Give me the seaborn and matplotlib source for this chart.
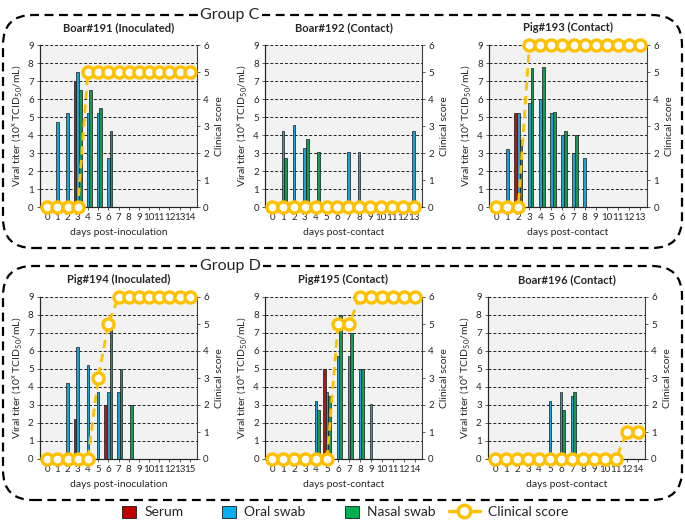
import numpy as np
import pandas as pd
import seaborn as sns
import matplotlib.pyplot as plt
from matplotlib.patches import FancyBboxPatch, Patch
from matplotlib.lines import Line2D

nan = np.nan

samples = ["Serum", "Oral swab", "Nasal swab"]
colors = ["#C00000", "#00B0F0", "#00B050"]
score_color = "#FFC000"

# ---- Group C ----
days_191 = [0, 1, 2, 3, 4, 5, 6, 7, 8, 9, 10, 11, 12, 13, 14]
serum_191 = [nan, nan, nan, 7.0, nan, nan, nan, nan, nan, nan, nan, nan, nan, nan, nan]
oral_191 = [nan, 4.75, 5.25, 7.5, 5.25, 5.25, 2.75, nan, nan, nan, nan, nan, nan, nan, nan]
nasal_191 = [nan, nan, nan, 6.5, 6.5, 5.5, 4.25, nan, nan, nan, nan, nan, nan, nan, nan]
score_191 = [0, 0, 0, 0, 5, 5, 5, 5, 5, 5, 5, 5, 5, 5, 5]

days_192 = [0, 1, 2, 3, 4, 5, 6, 7, 8, 9, 10, 11, 12, 13]
serum_192 = [nan] * 14
oral_192 = [nan, 4.25, 4.55, 3.3, nan, nan, nan, 3.05, 3.05, nan, nan, nan, nan, 4.25]
nasal_192 = [nan, 2.75, nan, 3.8, 3.05, nan, nan, nan, nan, nan, nan, nan, nan, nan]
score_192 = [0, 0, 0, 0, 0, 0, 0, 0, 0, 0, 0, 0, 0, 0]

days_193 = [0, 1, 2, 3, 4, 5, 6, 7, 8, 9, 10, 11, 12, 13]
serum_193 = [nan, nan, 5.25, nan, nan, nan, nan, nan, nan, nan, nan, nan, nan, nan]
oral_193 = [nan, 3.25, 5.25, 5.8, 6.0, 5.25, 4.0, 3.0, 2.75, nan, nan, nan, nan, nan]
nasal_193 = [nan, nan, 3.75, 7.75, 7.8, 5.3, 4.25, 4.0, nan, nan, nan, nan, nan, nan]
score_193 = [0, 0, 0, 6, 6, 6, 6, 6, 6, 6, 6, 6, 6, 6]

# ---- Group D ----
days_194 = [0, 1, 2, 3, 4, 5, 6, 7, 8, 9, 10, 11, 12, 13, 15]
serum_194 = [nan, nan, nan, 2.25, nan, nan, 3.0, nan, nan, nan, nan, nan, nan, nan, nan]
oral_194 = [nan, nan, 4.25, 6.25, 5.25, 3.75, 3.75, 3.75, nan, nan, nan, nan, nan, nan, nan]
nasal_194 = [nan, nan, nan, nan, nan, nan, 7.25, 5.0, 3.0, nan, nan, nan, nan, nan, nan]
score_194 = [0, 0, 0, 0, 0, 3, 5, 6, 6, 6, 6, 6, 6, 6, 6]

days_195 = [0, 1, 2, 3, 4, 5, 6, 7, 8, 9, 10, 11, 12, 14]
serum_195 = [nan, nan, nan, nan, nan, 5.0, nan, nan, nan, nan, nan, nan, nan, nan]
oral_195 = [nan, nan, nan, nan, 3.25, 3.75, 5.75, 5.75, 5.0, 3.05, nan, nan, nan, nan]
nasal_195 = [nan, nan, nan, nan, 2.75, 3.5, 8.0, 7.0, 5.0, nan, nan, nan, nan, nan]
score_195 = [0, 0, 0, 0, 0, 0, 5, 5, 6, 6, 6, 6, 6, 6]

days_196 = [0, 1, 2, 3, 4, 5, 6, 7, 8, 9, 10, 11, 12, 14]
serum_196 = [nan] * 14
oral_196 = [nan, nan, nan, nan, nan, 3.25, 3.75, 3.5, nan, nan, nan, nan, nan, nan]
nasal_196 = [nan, nan, nan, nan, nan, nan, 2.75, 3.75, nan, nan, nan, nan, nan, nan]
score_196 = [0, 0, 0, 0, 0, 0, 0, 0, 0, 0, 0, 0, 1, 1]

sns.set_style("ticks")
plt.rcParams['font.family'] = ['Lato', 'DejaVu Sans']

W, H = 685, 525
fig = plt.figure(figsize=(W / 100, H / 100), dpi=100)


def rect(x0, x1, ytop, ybot):
    return [x0 / W, 1 - ybot / H, (x1 - x0) / W, (ybot - ytop) / H]


def panel(pos, title, xlabel, days, serum, oral, nasal, score):
    ax = fig.add_axes(pos)
    labels = [str(d) for d in days]
    df = pd.DataFrame({
        "day": labels * 3,
        "sample": np.repeat(samples, len(days)),
        "titer": list(serum) + list(oral) + list(nasal),
    }).dropna()
    ax.set_facecolor("#F2F2F2")
    sns.barplot(data=df, x="day", y="titer", hue="sample", order=labels,
                hue_order=samples, palette=colors, width=0.75,
                edgecolor="#1a1a1a", linewidth=0.5, errorbar=None,
                legend=False, ax=ax, zorder=3)
    ax.set_ylim(0, 9)
    ax.set_yticks(range(10))
    ax.set_axisbelow(True)
    ax.yaxis.grid(True, ls=(0, (3, 2)), color="#222222", lw=0.7)
    ax.set_title(title, fontsize=8, fontweight="bold", pad=10)
    ax.set_xlabel(xlabel, fontsize=7.5, labelpad=4)
    ax.set_ylabel(r"Viral titer (10$^{\mathregular{x}}$ TCID$_{\mathregular{50}}$/mL)",
                  fontsize=7.5, labelpad=3)
    ax.tick_params(axis="both", labelsize=7, length=2.5, width=0.6, pad=2,
                   color="#404040")
    for s in ["left", "bottom"]:
        ax.spines[s].set_color("#404040")
        ax.spines[s].set_linewidth(0.8)
    ax.spines["top"].set_visible(False)
    ax.spines["right"].set_visible(False)

    ax2 = ax.twinx()
    ax2.plot(np.arange(len(days)), score, ls=(0, (3, 2)), color=score_color,
             lw=2, marker="o", ms=8, mfc="white", mec=score_color, mew=2.4,
             clip_on=False, zorder=5)
    ax2.set_ylim(0, 6)
    ax2.set_yticks(range(7))
    ax2.set_ylabel("Clinical score", fontsize=7.5, labelpad=4)
    ax2.tick_params(axis="y", labelsize=7, length=2.5, width=0.6, pad=2,
                    color="#404040")
    ax2.spines["top"].set_visible(False)
    ax2.spines["right"].set_color("#404040")
    ax2.spines["right"].set_linewidth(0.8)
    return ax


panel(rect(40, 197, 45, 207), "Boar#191 (Inoculated)", "days post-inoculation",
      days_191, serum_191, oral_191, nasal_191, score_191)
panel(rect(265, 422, 45, 207), "Boar#192 (Contact)", "days post-contact",
      days_192, serum_192, oral_192, nasal_192, score_192)
panel(rect(489, 647, 45, 207), "Pig#193 (Contact)", "days post-contact",
      days_193, serum_193, oral_193, nasal_193, score_193)
panel(rect(40, 197, 297, 459), "Pig#194 (Inoculated)", "days post-inoculation",
      days_194, serum_194, oral_194, nasal_194, score_194)
panel(rect(265, 422, 297, 459), "Pig#195 (Contact)", "days post-contact",
      days_195, serum_195, oral_195, nasal_195, score_195)
panel(rect(488, 645, 297, 459), "Boar#196 (Contact)", "days post-contact",
      days_196, serum_196, oral_196, nasal_196, score_196)

# dashed rounded group boxes (in inches)
for ytop, ybot, name in [(15, 248, "Group C"), (266, 500, "Group D")]:
    box = FancyBboxPatch((0.03, (H - ybot) / 100), 6.79, (ybot - ytop) / 100,
                         boxstyle="round,pad=0,rounding_size=0.3",
                         transform=fig.dpi_scale_trans, fill=False,
                         ec="black", lw=1.6, ls=(0, (4, 2.5)))
    fig.add_artist(box)
    fig.text(230 / W, 1 - ytop / H, name, ha="center", va="center",
             fontsize=11.5, bbox=dict(fc="white", ec="none", pad=2))

handles = [Patch(fc=c, ec="#1a1a1a", lw=0.6) for c in colors]
fig.legend(handles, samples, loc="center left", bbox_to_anchor=(122 / W, 1 - 512 / H),
           ncol=3, frameon=False, fontsize=10, handlelength=1.0, handleheight=1.0,
           handletextpad=0.6, columnspacing=2.8, borderaxespad=0, borderpad=0)
score_handle = Line2D([], [], color=score_color, lw=2.5, marker="o", ms=9,
                      mfc="white", mec=score_color, mew=2.5)
fig.legend([score_handle], ["Clinical score"], loc="center left",
           bbox_to_anchor=(449 / W, 1 - 512 / H), frameon=False, fontsize=10,
           handlelength=2.2, handletextpad=0.6, borderaxespad=0, borderpad=0)

fig.savefig("out.png", dpi=100)
